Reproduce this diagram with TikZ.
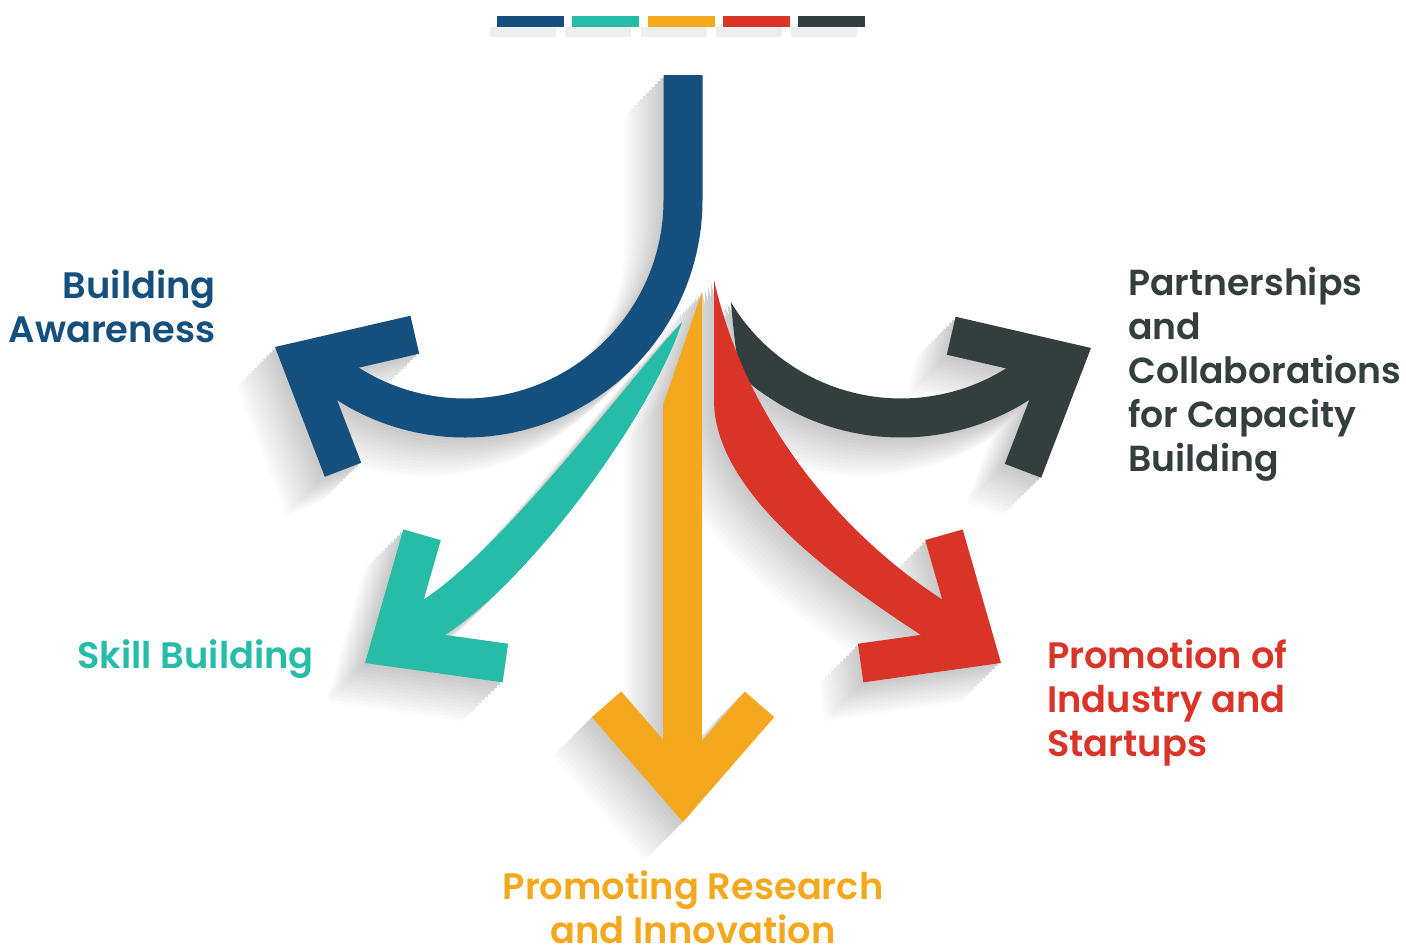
\documentclass[tikz,border=0pt]{standalone}
\usepackage{fontspec}
\setmainfont{Poppins}[BoldFont={Poppins SemiBold}]
\usepackage{tikz}
\usetikzlibrary{calc}
\definecolor{blueC}{RGB}{21,79,126}
\definecolor{tealC}{RGB}{39,188,168}
\definecolor{orangeC}{RGB}{244,168,30}
\definecolor{redC}{RGB}{218,51,40}
\definecolor{darkC}{RGB}{51,62,62}
\definecolor{barGrey}{RGB}{237,238,240}
\tikzstyle{itemtext} = [font=\fontsize{36.8}{44}\selectfont\bfseries, inner sep=0pt]

% open arrow head: colour, tip, direction
\newcommand{\chevronhead}[3]{%
  \fill[#1] (#2) -- ++({#3+221}:139) -- ++({#3+131}:39)
    -- ($(#2)+({#3+180}:59.4)$)
    -- ($(#2)+({#3+139}:139)+({#3+229}:39)$) -- ++({#3+49}:39) -- cycle;}

\newcommand{\awarenessarrow}[1]{%
  \fill[#1] (663.5,-75) -- (663.5,-200) arc[start angle=0, end angle=-128, radius=198.5]
    -- (301.5,-361) -- ($(465,-200)+(-128:237.5)$)
    arc[start angle=-128, end angle=0, radius=237.5] -- (702.5,-75) -- cycle;
  \chevronhead{#1}{275,-347}{152}}
\newcommand{\skillarrow}[1]{%
  \fill[#1] (682,-322) .. controls (628,-380) and (507,-545) .. (423,-600)
    -- (390,-647) -- (445,-635) .. controls (537,-575) and (655,-407) .. (682,-322) -- cycle;
  \chevronhead{#1}{365,-663}{213}}
\newcommand{\researcharrow}[1]{%
  \fill[#1] (702,-292) -- (702,-790) -- (663,-790) -- (663,-405) -- cycle;
  \chevronhead{#1}{683,-822}{270}}
\newcommand{\industryarrow}[1]{%
  \fill[#1] (714,-280) -- (714,-400) .. controls (714,-490) and (829,-575) .. (921,-635)
    -- (976,-647) -- (943,-600) .. controls (850,-540) and (748,-430) .. (714,-280) -- cycle;
  \chevronhead{#1}{1001,-663}{327}}
\newcommand{\partnerarrow}[1]{%
  \fill[#1] (730.9,-302.2) arc[start angle=211, end angle=308, radius=198.5]
    -- (1064.5,-362) -- ($(901,-200)+(308:237.5)$)
    arc[start angle=308, end angle=237, radius=237.5]
    .. controls (738,-377) .. (730.9,-302.2) -- cycle;
  \chevronhead{#1}{1091,-348}{28}}

\begin{document}
\begin{tikzpicture}[x=1pt, y=1pt]
    \useasboundingbox (0,0) rectangle (1406,-945);
    % colour bars
    \foreach \i/\c in {0/blueC, 1/tealC, 2/orangeC, 3/redC, 4/darkC} {
        \fill[barGrey] (490+75.3*\i,-27) rectangle ++(66,-10);
        \fill[\c] (497+75.3*\i,-16) rectangle ++(67,-11);
    }
    % long shadows
    \foreach \k in {39,36,...,3} {
        \pgfmathsetmacro{\tint}{22*(1-\k/42)}
        \begin{scope}[shift={(-\k,-\k)}]
            \awarenessarrow{black!\tint}
            \skillarrow{black!\tint}
            \researcharrow{black!\tint}
            \industryarrow{black!\tint}
            \partnerarrow{black!\tint}
        \end{scope}
    }
    % arrows
    \awarenessarrow{blueC}
    \partnerarrow{darkC}
    \skillarrow{tealC}
    \industryarrow{redC}
    \researcharrow{orangeC}
    % labels
    \node[itemtext, text=blueC, align=right, anchor=north east] (awareness) at (216,-269) {Building\\Awareness};
    \node[itemtext, text=tealC, anchor=north east] (skill) at (314,-639) {Skill Building};
    \node[itemtext, text=orangeC, align=center, anchor=north] (research) at (693,-870) {Promoting Research\\and Innovation};
    \node[itemtext, text=redC, align=left, anchor=north west] (industry) at (1047,-639) {Promotion of\\Industry and\\Startups};
    \node[itemtext, text=darkC, align=left, anchor=north west,
          font=\fontsize{36.2}{44}\selectfont\bfseries] (partner) at (1128,-267) {Partnerships\\and\\Collaborations\\for Capacity\\Building};
\end{tikzpicture}
\end{document}
